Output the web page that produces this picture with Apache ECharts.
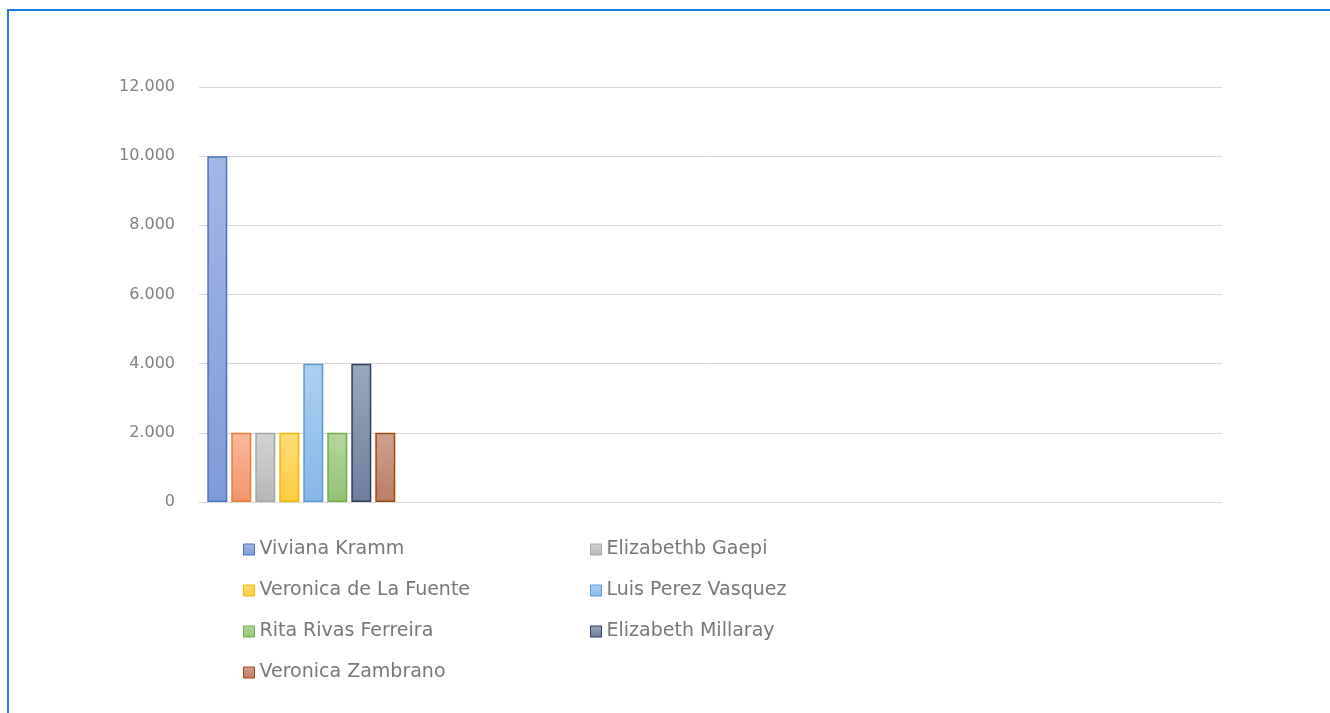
<!DOCTYPE html>
<html><head><meta charset="utf-8">
<script src="https://cdn.jsdelivr.net/npm/echarts@6/dist/echarts.min.js"></script>
<style>
html,body{margin:0;padding:0;background:#fff;}
#frame{position:absolute;left:7px;top:9px;width:1400px;height:800px;border-top:2px solid #1a7ad4;border-left:2px solid #1a7ad4;}
#c{position:absolute;left:0;top:0;width:1330px;height:713px;}
</style></head>
<body>
<div id="frame"></div>
<div id="c"></div>
<script>
const categories = ['', '', '', '', ''];
const seriesNames = ['Viviana Kramm', ' ', 'Elizabethb Gaepi', 'Veronica de La Fuente', 'Luis Perez Vasquez', 'Rita Rivas Ferreira', 'Elizabeth Millaray', 'Veronica Zambrano'];
const seriesValues = [
  [10000, null, null, null, null],
  [2000, null, null, null, null],
  [2000, null, null, null, null],
  [2000, null, null, null, null],
  [4000, null, null, null, null],
  [2000, null, null, null, null],
  [4000, null, null, null, null],
  [2000, null, null, null, null]
];
const legendLeftCol = ['Viviana Kramm', 'Veronica de La Fuente', 'Rita Rivas Ferreira', 'Veronica Zambrano'];
const legendRightCol = ['Elizabethb Gaepi', 'Luis Perez Vasquez', 'Elizabeth Millaray'];
const yTicks = [0, 2000, 4000, 6000, 8000, 10000, 12000];

const fills = [['#a3b8e3','#7f9bd6'],['#fbb99a','#f4956a'],['#d2d2d2','#b8b8b8'],['#ffdc79','#ffcc40'],['#acd0f0','#86b8e6'],['#b3d89b','#93c374'],['#99a7bd','#6f7f9c'],['#d0a08d','#bb7d66']];
const borders = ['#4a72c0','#ed7d31','#a5a5a5','#f0b800','#5b9bd5','#70ad47','#2e3f60','#9e480e'];

const series = seriesNames.map((n, i) => ({
  name: n, type: 'bar', data: seriesValues[i], barWidth: 20, barGap: '20%',
  itemStyle: {
    color: new echarts.graphic.LinearGradient(0,0,0,1,[{offset:0,color:fills[i][0]},{offset:1,color:fills[i][1]}]),
    borderColor: borders[i], borderWidth: 1.5
  }
}));

const legendBase = {
  orient: 'vertical', top: 535, itemWidth: 11, itemHeight: 11, itemGap: 22, icon: 'rect',
  itemStyle: { borderWidth: 1 },
  textStyle: { color: '#777777', fontSize: 19, fontFamily: 'DejaVu Sans', padding: [0,0,0,0] },
  selectedMode: false
};

const chart = echarts.init(document.getElementById('c'));
chart.setOption({
  animation: false,
  textStyle: { fontFamily: 'DejaVu Sans, sans-serif' },
  grid: { left: 199, right: 108, top: 87, bottom: 211, containLabel: false },
  xAxis: { type: 'category', data: categories, axisLine: { lineStyle: { color: '#d9d9d9' } }, axisTick: { show: false }, axisLabel: { show: false } },
  yAxis: { type: 'value', min: yTicks[0], max: yTicks[yTicks.length-1], interval: 2000,
    axisLine: { show: false }, axisTick: { show: false },
    splitLine: { lineStyle: { color: '#d9d9d9', width: 1 } },
    axisLabel: { color: '#808080', fontSize: 16, margin: 24, formatter: v => String(v).replace(/\B(?=(\d{3})+(?!\d))/g, '.') } },
  legend: [
    Object.assign({}, legendBase, { data: legendLeftCol, left: 238 }),
    Object.assign({}, legendBase, { data: legendRightCol, left: 585 })
  ],
  series: series
});
</script>
</body></html>
